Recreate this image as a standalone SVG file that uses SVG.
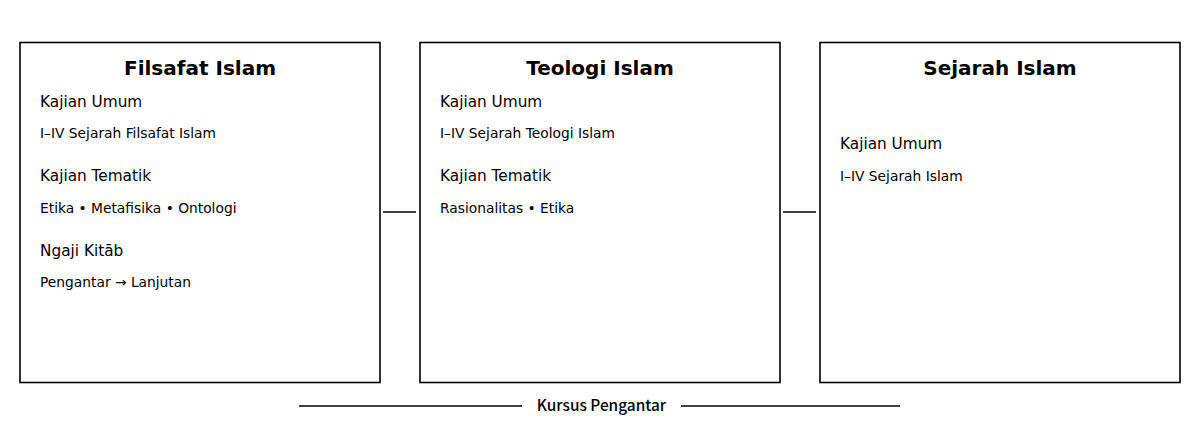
<svg xmlns="http://www.w3.org/2000/svg" width="1200" height="425" viewBox="0 0 1200 425">
<style>
.box{fill:#fff;stroke:#000;stroke-width:1.6}
.title{font-family:"DejaVu Sans",sans-serif;font-weight:bold;font-size:20px;fill:#000;text-anchor:middle}
.h{font-family:"DejaVu Sans",sans-serif;font-size:15.3px;fill:#000}
.s{font-family:"DejaVu Sans",sans-serif;font-size:13.8px;fill:#000}
.ln{stroke:#000;stroke-width:1.3;fill:none}
.foot{font-family:"Noto Sans CJK SC","Noto Sans",sans-serif;font-weight:500;font-size:15.4px;fill:#000;text-anchor:middle}
</style>
<rect width="1200" height="425" fill="#fff"/>
<g id="filsafat">
<rect class="box" x="20" y="42.5" width="360" height="340"/>
<text class="title" x="200" y="75">Filsafat Islam</text>
<text class="h" x="40" y="107">Kajian Umum</text>
<text class="s" x="40" y="138">I–IV Sejarah Filsafat Islam</text>
<text class="h" x="40" y="181">Kajian Tematik</text>
<text class="s" x="40" y="213">Etika • Metafisika • Ontologi</text>
<text class="h" x="40" y="256">Ngaji Kitāb</text>
<text class="s" x="40" y="287">Pengantar → Lanjutan</text>
</g>
<g id="teologi">
<rect class="box" x="420" y="42.5" width="360" height="340"/>
<text class="title" x="600" y="75">Teologi Islam</text>
<text class="h" x="440" y="107">Kajian Umum</text>
<text class="s" x="440" y="138">I–IV Sejarah Teologi Islam</text>
<text class="h" x="440" y="181">Kajian Tematik</text>
<text class="s" x="440" y="213">Rasionalitas • Etika</text>
</g>
<g id="sejarah">
<rect class="box" x="820" y="42.5" width="360" height="340"/>
<text class="title" x="1000" y="75">Sejarah Islam</text>
<text class="h" x="840" y="149">Kajian Umum</text>
<text class="s" x="840" y="181">I–IV Sejarah Islam</text>
</g>
<g id="connectors">
<line class="ln" x1="383" y1="212" x2="416" y2="212"/>
<line class="ln" x1="783" y1="212" x2="816" y2="212"/>
</g>
<g id="footer">
<line class="ln" x1="299" y1="406" x2="522" y2="406"/>
<line class="ln" x1="681" y1="406" x2="900" y2="406"/>
<text class="foot" x="601.5" y="411">Kursus Pengantar</text>
</g>
</svg>
